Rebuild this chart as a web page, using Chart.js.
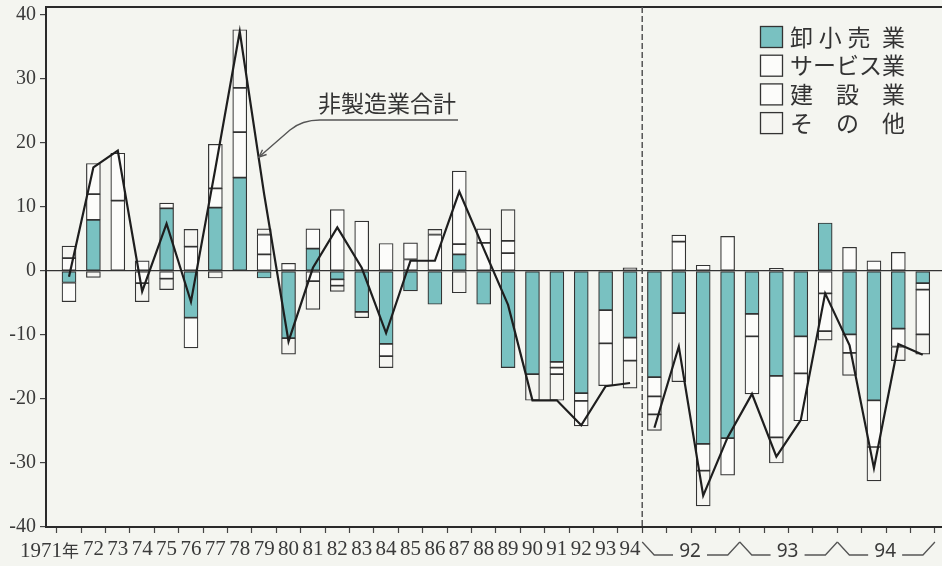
<!DOCTYPE html>
<html><head><meta charset="utf-8">
<script src="https://cdn.jsdelivr.net/npm/chart.js@4.4.1/dist/chart.umd.min.js"></script>
<style>html,body{margin:0;padding:0;background:#f4f5f0;}canvas{display:block;}</style>
</head><body>
<canvas id="c" width="942" height="566"></canvas>
<script>
// ---- data ----
const categories = ['1971年','72','73','74','75','76','77','78','79','80','81','82','83','84','85','86','87','88','89','90','91','92','93','94',
  '92Q1','92Q2','92Q3','92Q4','93Q1','93Q2','93Q3','93Q4','94Q1','94Q2','94Q3','94Q4'];
const quarterYearLabels = ['92','93','94'];
const seriesNames = ['卸小売業','サービス業','建設業','その他'];
const totalName = '非製造業合計';
const wholesaleRetail = [-1.8,8.0,0,0,9.8,-7.3,9.9,14.6,-1.1,-10.5,3.5,-1.3,-6.4,-11.4,-3.1,-5.2,2.6,-5.2,-15.1,-16.1,-14.2,-19.1,-6.1,-10.4,
  -16.6,-6.6,-27.0,-26.1,-6.7,-16.4,-10.2,7.5,-9.9,-20.2,-9.0,-1.9];
const services = [2.0,4.0,11.0,1.6,0.8,3.8,3.0,7.1,2.6,1.2,3.1,9.6,7.8,4.3,1.8,5.7,1.6,4.4,2.8,0,-0.9,-1.2,-5.2,0.5,
  -3.0,4.6,0.9,5.4,-3.5,0.4,-5.8,-3.5,3.7,1.6,2.9,-1.0];
const construction = [-3.0,4.8,7.4,-1.9,-1.2,-4.7,6.9,6.9,3.1,0,-1.6,-1.0,0,-1.9,2.6,0,11.4,2.2,1.9,0,-1.0,-3.9,-6.6,-3.6,
  -2.8,1.0,-4.2,-5.8,-9.0,-9.6,-7.4,-5.9,-2.9,-7.3,-2.8,-7.0];
const others = [1.9,-1.0,0,-2.9,-1.7,2.7,-1.1,9.1,0.9,-2.5,-4.4,-0.9,-0.9,-1.8,0,0.8,-3.4,0,4.9,-4.1,-4.1,0,0,-4.3,
  -2.5,-10.7,-5.5,0,0,-4.0,0,-1.4,-3.5,-5.3,-2.2,-3.1];
const nonManufacturingTotal = [-0.9,16.2,18.8,-3.2,7.4,-4.8,16.0,37.4,12.0,-11.0,0.5,6.8,0.5,-9.7,1.6,1.6,12.4,3.5,-5.3,-20.2,-20.2,-24.1,-18.0,-17.5,
  -24.5,-11.8,-35.1,-26.0,-19.2,-29.0,-23.3,-3.5,-11.6,-30.8,-11.4,-13.1];
const yTickValues = [-40,-30,-20,-10,0,10,20,30,40];

// ---- chart ----
const toXY = arr => arr.map((v, i) => ({x: i, y: v}));
const barColors = ['#79c1c1', '#fcfcfa', '#fcfcfa', '#f5f5f1'];
const barSeries = [wholesaleRetail, services, construction, others];
const N_ANNUAL = 24;

const barDatasets = barSeries.map((arr, k) => ({
  type: 'bar', label: seriesNames[k], data: toXY(arr), stack: 'bars', order: 1,
  backgroundColor: barColors[k], borderColor: '#333', borderWidth: 1.2, borderSkipped: false,
  barThickness: 14
}));

const lineDataset = {
  type: 'line', label: totalName, data: toXY(nonManufacturingTotal), stack: 'total', order: 0,
  borderColor: '#1e1e1e', borderWidth: 2.2, pointRadius: 0, tension: 0, fill: false,
  segment: { borderColor: ctx => ctx.p0DataIndex === N_ANNUAL - 1 ? 'rgba(0,0,0,0)' : undefined }
};

const SERIF = '"Liberation Serif", "Noto Sans CJK JP", serif';
const CJK = '"Noto Sans CJK JP", sans-serif';

const decor = {
  id: 'decor',
  beforeDraw(chart) {
    const {ctx, width, height} = chart;
    ctx.save(); ctx.fillStyle = '#f4f5f0'; ctx.fillRect(0, 0, width, height); ctx.restore();
  },
  afterDraw(chart) {
    const {ctx, chartArea: ca, scales: {x}} = chart;
    ctx.save();
    // top frame
    ctx.strokeStyle = '#2a2a2a'; ctx.lineWidth = 2;
    ctx.beginPath(); ctx.moveTo(ca.left - 1, ca.top); ctx.lineTo(ca.right, ca.top); ctx.stroke();
    // dashed divider between annual and quarterly
    const xd = x.getPixelForValue(N_ANNUAL - 0.5);
    ctx.strokeStyle = '#555'; ctx.lineWidth = 1.5; ctx.setLineDash([6, 3]);
    ctx.beginPath(); ctx.moveTo(xd, ca.top); ctx.lineTo(xd, ca.bottom); ctx.stroke();
    ctx.setLineDash([]);
    // first annual label (shifted like original)
    ctx.fillStyle = '#3a3a3a'; ctx.textBaseline = 'middle'; ctx.textAlign = 'right';
    const first = categories[0];
    const digits = first.replace(/[^0-9]/g, ''), suffix = first.replace(/[0-9]/g, '');
    ctx.font = '17px ' + CJK;
    const sw = ctx.measureText(suffix).width;
    const xEnd = x.getPixelForValue(0) + 10;
    ctx.fillText(suffix, xEnd, 551);
    ctx.font = '21px ' + SERIF;
    ctx.fillText(digits, xEnd - sw, 551);
    // quarterly year group brackets
    ctx.strokeStyle = '#555'; ctx.lineWidth = 1.3;
    ctx.font = '19px "Noto Sans", sans-serif'; ctx.textAlign = 'center';
    const yT = 542, yB = 555;
    quarterYearLabels.forEach((lab, g) => {
      const i0 = N_ANNUAL + 4 * g;
      const xL = x.getPixelForValue(i0 - 0.5), xR = x.getPixelForValue(i0 + 3.5);
      const xc = x.getPixelForValue(i0 + 1.5);
      ctx.beginPath(); ctx.moveTo(xL, yT); ctx.lineTo(xL + 12, yB); ctx.lineTo(xc - 18, yB); ctx.stroke();
      ctx.beginPath(); ctx.moveTo(xc + 16, yB); ctx.lineTo(xR - 12, yB); ctx.lineTo(xR, yT); ctx.stroke();
      ctx.fillStyle = '#3a3a3a';
      ctx.fillText(lab, xc - 1, 552);
    });
    // legend
    const slotMap = {5: [0, 1, 2, 3, 4], 4: [0, 1.25, 2.5, 4], 3: [0, 2, 4]};
    chart.data.datasets.filter(d => d.type === 'bar').forEach((d, i) => {
      const top = 26 + i * 28.7;
      ctx.fillStyle = d.backgroundColor; ctx.fillRect(760, top, 22, 21);
      ctx.strokeStyle = '#333'; ctx.lineWidth = 1.3; ctx.strokeRect(760.5, top + 0.5, 22, 21);
      const chars = Array.from(d.label);
      const slots = slotMap[chars.length];
      ctx.font = '23px ' + CJK; ctx.textAlign = 'center'; ctx.textBaseline = 'middle'; ctx.fillStyle = '#333';
      chars.forEach((ch, k) => ctx.fillText(ch, 801.5 + slots[k] * 23, top + 11));
    });
    // annotation for the total line
    ctx.font = '23px ' + CJK; ctx.textAlign = 'left'; ctx.fillStyle = '#333';
    ctx.fillText(totalName, 318, 103);
    ctx.strokeStyle = '#555'; ctx.lineWidth = 1.4;
    ctx.beginPath(); ctx.moveTo(458, 120); ctx.lineTo(320, 120);
    ctx.quadraticCurveTo(302, 120, 290, 130); ctx.lineTo(259, 157); ctx.stroke();
    const ang = Math.atan2(157 - 130, 259 - 290);
    ctx.beginPath();
    ctx.moveTo(259 - 8 * Math.cos(ang - 0.4), 157 - 8 * Math.sin(ang - 0.4));
    ctx.lineTo(259, 157);
    ctx.lineTo(259 - 8 * Math.cos(ang + 0.4), 157 - 8 * Math.sin(ang + 0.4));
    ctx.stroke();
    ctx.restore();
  }
};

new Chart(document.getElementById('c'), {
  type: 'bar',
  data: { datasets: [...barDatasets, lineDataset] },
  options: {
    responsive: false, animation: false, devicePixelRatio: 1,
    layout: { padding: { top: 7, left: 0, right: 0, bottom: 0 } },
    plugins: { legend: { display: false }, tooltip: { enabled: false } },
    scales: {
      x: {
        type: 'linear', min: -0.943, max: 35.79, offset: false,
        afterBuildTicks: s => { s.ticks = categories.map((_, i) => ({value: i})); },
        afterFit: s => { s.height = 39; s.paddingLeft = 0; s.paddingRight = 0; },
        ticks: {
          autoSkip: false, maxRotation: 0, minRotation: 0, padding: 4,
          color: '#3a3a3a', font: { family: SERIF, size: 21 },
          callback: v => (v > 0 && v < N_ANNUAL) ? categories[v] : ''
        },
        grid: { drawOnChartArea: false, drawTicks: true, tickLength: 6, tickColor: '#444', tickWidth: 1.2 },
        border: { display: true, color: '#2a2a2a', width: 2 }
      },
      y: {
        stacked: true, min: -40, max: 41.25,
        afterBuildTicks: s => { s.ticks = yTickValues.map(v => ({value: v})); },
        afterFit: s => { s.width = 46; s.paddingTop = 0; s.paddingBottom = 0; },
        ticks: { color: '#3a3a3a', font: { family: SERIF, size: 20 }, padding: 4 },
        grid: {
          drawTicks: true, tickLength: 6, tickColor: '#444', tickWidth: 1.2,
          color: c => (c.tick && c.tick.value === 0) ? '#333' : 'rgba(0,0,0,0)', lineWidth: 1.2
        },
        border: { display: true, color: '#2a2a2a', width: 2 }
      }
    }
  },
  plugins: [decor]
});
</script>
</body></html>
